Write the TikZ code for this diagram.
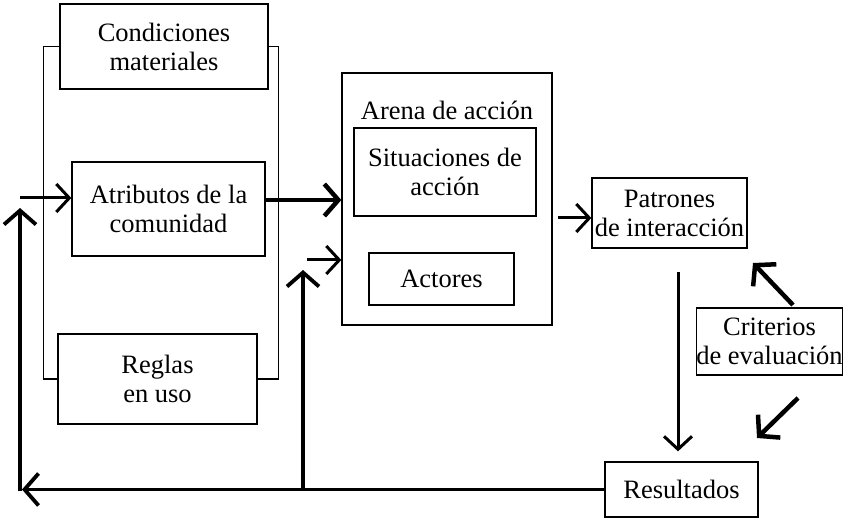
\documentclass[tikz,border=0pt]{standalone}
\usepackage{fontspec}
\setmainfont{Liberation Serif}
\usetikzlibrary{positioning, arrows.meta}

\begin{document}
\begin{tikzpicture}[x=1pt, y=-1pt,
    box/.style = {draw, line width=1.3, fill=white, align=center, inner sep=0,
                  font=\fontsize{26.5}{29}\selectfont},
    frame/.style = {line width=1.3},
    flow/.style = {line width=3, -{Straight Barb[length=13, width=28]}},
    bigflow/.style = {line width=4.5, -{Straight Barb[length=14, width=32]}}]
    \useasboundingbox (0,0) rectangle (844,518);

    \node[box, minimum width=208, minimum height=85] (cond)   at (164,46.5)   {Condiciones\\materiales};
    \node[box, minimum width=193, minimum height=94] (atrib)  at (168.5,209)  {Atributos de la\\comunidad};
    \node[box, minimum width=199, minimum height=90] (reglas) at (157.5,379)  {Reglas\\en uso};

    \node[box, minimum width=210, minimum height=252] (arena) at (447,199) {};
    \node[font=\fontsize{26.5}{29}\selectfont, inner sep=0] (arenalbl) at (447,110) {Arena de acción};
    \node[box, minimum width=182, minimum height=88] (situ)  at (445,172)   {Situaciones de\\acción};
    \node[box, minimum width=145, minimum height=52] (actor) at (441.5,279) {Actores};

    \node[box, minimum width=155, minimum height=70] (patron) at (669.5,213)   {Patrones\\de interacción};
    \node[box, minimum width=146, minimum height=67] (crit)   at (769.5,341.5) {Criterios\\de evaluación};
    \node[box, minimum width=153, minimum height=55] (result) at (681.5,489.5) {Resultados};

    % marco de las condiciones
    \draw[frame] (cond.west) -- ++(-16,0) |- (reglas.west);
    \draw[frame] (cond.east) -- ++(10,0) |- (reglas.east);

    % retroalimentacion desde los resultados
    \coordinate (fbl)  at (20,489.5);
    \coordinate (fbm)  at (303,489.5);
    \draw[bigflow, line width=3.8] (result.west) -- ([xshift=2]fbl);
    \draw[bigflow, line width=3.8] ([yshift=-2]fbl) -- (20,208);
    \draw[bigflow, line width=3.8] (fbm) -- (303,270);

    % entradas
    \coordinate (in1) at (20,198);
    \coordinate (in2) at (307,260);
    \draw[flow] (in1) -- (in1 -| atrib.west);
    \draw[bigflow] ([yshift=9]atrib.east) -- ([yshift=9]atrib.east -| arena.west);
    \draw[flow] (in2) -- (in2 -| arena.west);

    % salidas
    \coordinate (ap) at (558,218);
    \draw[flow] (ap) -- (ap -| patron.west);
    \coordinate (pd) at (678,272);
    \draw[flow] (pd) -- ([yshift=10]pd |- result.north);

    % criterios
    \coordinate (cu) at (793,305);
    \coordinate (cd) at (798,398);
    \draw[bigflow] (cu) -- (753,263);
    \draw[bigflow] (cd) -- (757,438);
\end{tikzpicture}
\end{document}
